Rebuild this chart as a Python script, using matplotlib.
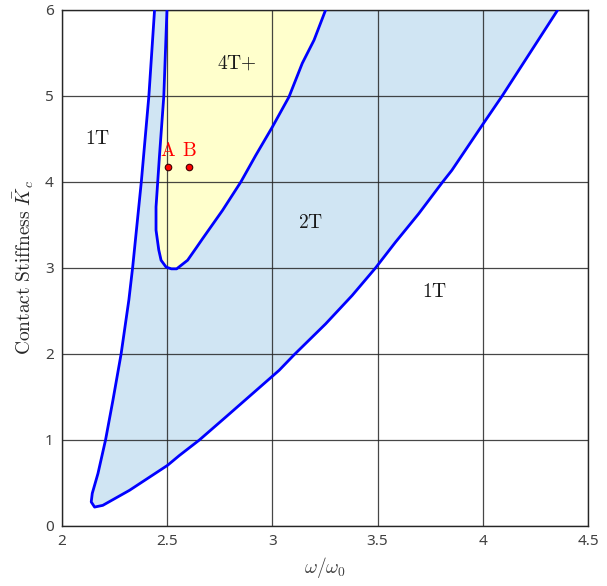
import matplotlib
matplotlib.use("Agg")
import matplotlib.pyplot as plt

plt.rcParams['mathtext.fontset'] = 'cm'

# Outer boundary (2T region), traced from top-left, down to tip, up to top-right
outer_x = [2.440, 2.413, 2.377, 2.336, 2.318, 2.281, 2.242, 2.207, 2.171, 2.144,
           2.139, 2.155, 2.194, 2.321, 2.502, 2.558, 2.653, 2.780, 3.032, 3.103,
           3.253, 3.379, 3.490, 3.585, 3.695, 3.806, 3.853, 4.000, 4.092, 4.356]
outer_y = [6.00, 5.00, 4.00, 3.01, 2.63, 2.00, 1.46, 1.00, 0.61, 0.38,
           0.28, 0.22, 0.24, 0.415, 0.706, 0.82, 1.00, 1.27, 1.81, 1.99,
           2.35, 2.68, 3.00, 3.30, 3.63, 3.99, 4.136, 4.67, 5.00, 6.00]

# Inner boundary (4T+ region)
inner_x = [2.499, 2.484, 2.463, 2.447, 2.447, 2.460, 2.471, 2.495, 2.520, 2.545,
           2.597, 2.637, 2.668, 2.763, 2.850, 2.921, 3.000, 3.079, 3.142, 3.198, 3.253]
inner_y = [6.00, 5.00, 4.29, 3.71, 3.44, 3.21, 3.09, 3.01, 2.99, 2.99,
           3.09, 3.23, 3.34, 3.67, 4.00, 4.31, 4.64, 4.99, 5.38, 5.65, 6.00]

points_x = [2.504, 2.604]
points_y = [4.17, 4.17]
point_names = ['A', 'B']

region_labels = ['4T{+}', '1T', '2T', '1T']
region_x = [2.832, 2.171, 3.183, 3.773]
region_y = [5.38, 4.51, 3.53, 2.73]

xticks = [2, 2.5, 3, 3.5, 4, 4.5]
yticks = [0, 1, 2, 3, 4, 5, 6]

fig = plt.figure(figsize=(6.07, 5.86), dpi=100)
ax = fig.add_axes([0.1021, 0.1024, 0.8666, 0.8806])
ax.set_axisbelow('line')

ax.fill(outer_x, outer_y, color='#d0e5f3', lw=0, zorder=1)
ax.fill(inner_x, inner_y, color='#ffffcc', lw=0, zorder=1.1)
ax.plot(outer_x, outer_y, color='#0000ff', lw=2, zorder=3, solid_joinstyle='round')
ax.plot(inner_x, inner_y, color='#0000ff', lw=2, zorder=3, solid_joinstyle='round')

ax.scatter(points_x, points_y, s=22, color='red', edgecolor='#400000', lw=0.8, zorder=4)
for px, py, nm in zip(points_x, points_y, point_names):
    ax.text(px, py + 0.09, r'$\mathrm{%s}$' % nm, color='red', fontsize=14,
            ha='center', va='bottom', zorder=5)

for lab, lx, ly in zip(region_labels, region_x, region_y):
    ax.text(lx, ly, r'$\mathrm{%s}$' % lab, fontsize=14, ha='center', va='center',
            color='#1a1a1a', zorder=5)

ax.set_xlim(2, 4.5)
ax.set_ylim(0, 6)
ax.set_xticks(xticks)
ax.set_xticklabels(['2', '2.5', '3', '3.5', '4', '4.5'])
ax.set_yticks(yticks)
ax.grid(True, color='#262626', lw=0.9, alpha=0.85)
ax.tick_params(direction='in', length=0, labelsize=11, labelcolor='#404040', pad=6)
for lbl in ax.get_xticklabels() + ax.get_yticklabels():
    lbl.set_family('Noto Sans')
for sp in ax.spines.values():
    sp.set_color('#262626')
    sp.set_linewidth(1.0)

ax.set_xlabel(r'$\omega/\omega_0$', fontsize=14, color='#404040', labelpad=4)
ax.set_ylabel(r'$\mathrm{Contact\ Stiffness}\ \bar{K}_c$', fontsize=14, color='#262626', labelpad=6)

fig.savefig('out.png', dpi=100)
